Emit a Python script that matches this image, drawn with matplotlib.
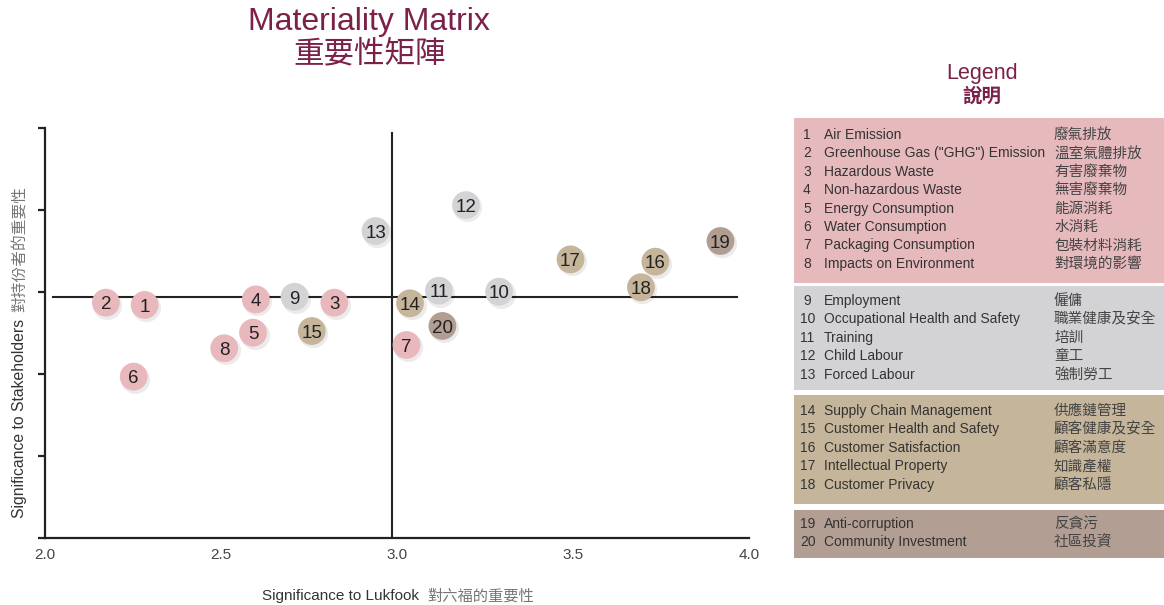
import matplotlib
matplotlib.use("Agg")
import matplotlib.pyplot as plt
import matplotlib.transforms as mtransforms
from matplotlib.patches import Rectangle

# topic numbers and their position on the matrix
topic_ids = list(range(1, 21))
lukfook = [2.283, 2.173, 2.822, 2.599, 2.591, 2.252, 3.027, 2.509, 2.709, 3.290,
           3.119, 3.196, 2.939, 3.037, 2.758, 3.734, 3.493, 3.693, 3.919, 3.129]
stakeholders = [2.921, 2.935, 2.935, 2.955, 2.752, 2.484, 2.677, 2.657, 2.971, 3.002,
                3.008, 3.530, 3.372, 2.931, 2.762, 3.185, 3.199, 3.029, 3.311, 2.793]
topic_group = [0] * 8 + [1] * 5 + [2] * 5 + [3] * 2

legend_en = ["Air Emission", 'Greenhouse Gas ("GHG") Emission', "Hazardous Waste",
             "Non-hazardous Waste", "Energy Consumption", "Water Consumption",
             "Packaging Consumption", "Impacts on Environment", "Employment",
             "Occupational Health and Safety", "Training", "Child Labour",
             "Forced Labour", "Supply Chain Management", "Customer Health and Safety",
             "Customer Satisfaction", "Intellectual Property", "Customer Privacy",
             "Anti-corruption", "Community Investment"]
legend_zh = ["廢氣排放", "溫室氣體排放", "有害廢棄物", "無害廢棄物", "能源消耗", "水消耗",
             "包裝材料消耗", "對環境的影響", "僱傭", "職業健康及安全", "培訓", "童工",
             "強制勞工", "供應鏈管理", "顧客健康及安全", "顧客滿意度", "知識產權", "顧客私隱",
             "反貪污", "社區投資"]

x_ticks = [2.0, 2.5, 3.0, 3.5, 4.0]
x_tick_labels = ["2.0", "2.5", "3.0", "3.5", "4.0"]
y_ticks = [1.5, 2.0, 2.5, 3.0, 3.5, 4.0]
v_line_x = 2.985
h_line_y = 2.97

bubble_colors = ["#e8b8bc", "#d3d3d6", "#c5b59a", "#b29d92"]
box_colors = ["#e6b9bd", "#d3d3d5", "#c5b59a", "#b29e93"]
maroon = "#7b2149"
EN = ["Liberation Sans", "Noto Sans CJK TC"]
ZH = ["Noto Sans CJK TC", "DejaVu Sans"]

W, H = 1164, 605
fig = plt.figure(figsize=(W / 100, H / 100), dpi=100)
fig.patch.set_facecolor("white")

# main matrix
ax = fig.add_axes([45 / W, (H - 538) / H, 704 / W, 410 / H])
ax.set_xlim(2.0, 4.0)
ax.set_ylim(1.5, 4.0)
for s in ["top", "right"]:
    ax.spines[s].set_visible(False)
for s in ["left", "bottom"]:
    ax.spines[s].set_linewidth(1.6)
    ax.spines[s].set_color("#222222")
ax.set_xticks(x_ticks)
ax.set_xticklabels(x_tick_labels, family="Liberation Sans", fontsize=11, color="#444444")
ax.set_yticks(y_ticks)
ax.set_yticklabels([])
ax.tick_params(axis="x", length=0, pad=7)
ax.tick_params(axis="y", length=5, width=1.6, color="#222222")

ax.plot([v_line_x, v_line_x], [1.5, 3.97], color="#222222", lw=1.5, zorder=2)
ax.plot([2.023, 3.966], [h_line_y, h_line_y], color="#222222", lw=1.5, zorder=2)

cols = [bubble_colors[g] for g in topic_group]
shadow = mtransforms.offset_copy(ax.transData, fig=fig, x=1.5, y=-2, units="dots")
ax.scatter(lukfook, stakeholders, s=440, color="#000000", alpha=0.08, lw=0,
           transform=shadow, zorder=3, clip_on=False)
ax.scatter(lukfook, stakeholders, s=400, color=cols, lw=0, zorder=4, clip_on=False)
num_tr = mtransforms.offset_copy(ax.transData, fig=fig, x=0, y=-6.8, units="dots")
for i, x, y in zip(topic_ids, lukfook, stakeholders):
    ax.text(x, y, str(i), ha="center", va="baseline", fontsize=13.5, transform=num_tr,
            family="Liberation Sans", color="#222222", zorder=5)

# overlay in pixel coordinates for titles and legend
ov = fig.add_axes([0, 0, 1, 1], facecolor="none")
ov.set_xlim(0, W)
ov.set_ylim(H, 0)
ov.axis("off")

ov.text(369, 22, "Materiality Matrix", ha="center", va="center", fontsize=23,
        family=EN, color=maroon)
ov.text(370, 54, "重要性矩陣", ha="center", va="center", fontsize=22,
        family=ZH, color=maroon)

ov.text(419, 596, "Significance to Lukfook", ha="right", va="center", fontsize=11,
        family=EN, color="#333333")
ov.text(427, 596, "對六福的重要性", ha="left", va="center", fontsize=11,
        family=ZH, color="#777777")
ov.text(20, 518, "Significance to Stakeholders", ha="center", va="bottom", rotation=90,
        fontsize=11.3, family=EN, color="#333333")
ov.text(20, 312, "對持份者的重要性", ha="center", va="bottom", rotation=90,
        fontsize=11.3, family=ZH, color="#777777")

ov.text(982, 73, "Legend", ha="center", va="center", fontsize=15.5, family=EN, color=maroon)
ov.text(982, 96, "說明", ha="center", va="center", fontsize=14, weight="bold",
        family=ZH, color=maroon)

box_tops = [118, 286, 395, 510]
box_bottoms = [283, 390, 504, 558]
first_rows = [135, 301, 411, 524]
row_step = 18.4
for g in range(4):
    ov.add_patch(Rectangle((794, box_tops[g]), W - 794, box_bottoms[g] - box_tops[g],
                           facecolor=box_colors[g], edgecolor="none"))
    members = [k for k in range(len(topic_ids)) if topic_group[k] == g]
    for r, k in enumerate(members):
        y = first_rows[g] + r * row_step
        num = str(topic_ids[k])
        ov.text(803 if len(num) == 1 else 800, y, num, ha="left", va="center",
                fontsize=10, family=EN, color="#333333")
        ov.text(824, y, legend_en[k], ha="left", va="center", fontsize=10,
                family=EN, color="#333333")
        ov.text(1054, y, legend_zh[k], ha="left", va="center", fontsize=10.5,
                family=ZH, color="#444444")

fig.savefig("out.png", dpi=100)
